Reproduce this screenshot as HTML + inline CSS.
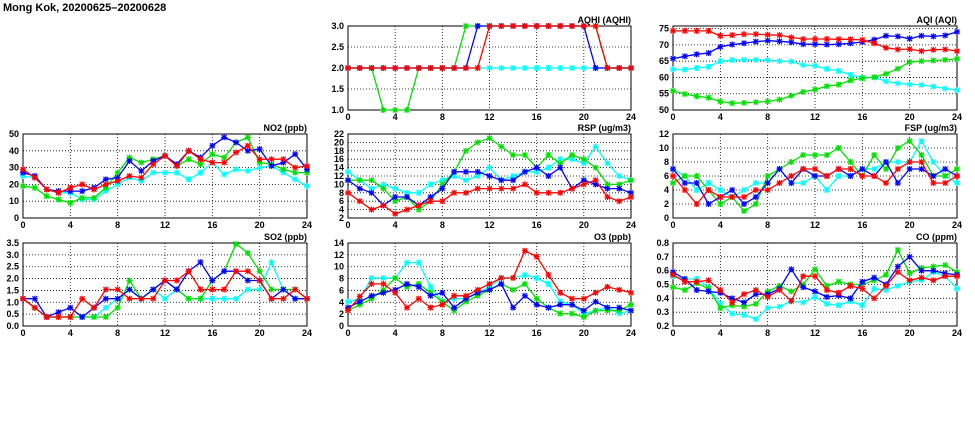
<!DOCTYPE html>
<html><head><meta charset="utf-8">
<style>
html,body{margin:0;padding:0;background:#fff;}
svg{display:block;font-family:"Liberation Sans",sans-serif;}
.tk{font-size:9px;font-weight:bold;fill:#000;}
.tt{font-size:9px;font-weight:bold;fill:#000;}
</style></head>
<body>
<svg id="chart" width="975" height="447" viewBox="0 0 975 447" xmlns="http://www.w3.org/2000/svg">
<text x="3" y="11" style="font-size:11px;font-weight:bold">Mong Kok, 20200625–20200628</text>
</svg>
<script>
const hours=[0,1,2,3,4,5,6,7,8,9,10,11,12,13,14,15,16,17,18,19,20,21,22,23,24];
const xTicks=[0,4,8,12,16,20,24];
const seriesNames=['cyan','green','blue','red'];
const seriesColors=['#00ffff','#00e000','#0000ff','#ff0000'];

const aqhiRed=[2,2,2,2,2,2,2,2,2,2,2,2,3,3,3,3,3,3,3,3,3,3,2,2,2];
const aqhiBlue=[2,2,2,2,2,2,2,2,2,2,2,3,3,3,3,3,3,3,3,3,3,2,2,2,2];
const aqhiGreen=[2,2,2,1,1,1,2,2,2,2,3,3,3,3,3,3,3,3,3,3,3,3,2,2,2];
const aqhiCyan=[2,2,2,2,2,2,2,2,2,2,2,2,2,2,2,2,2,2,2,2,2,2,2,2,2];

const aqiRed=[74.3,74.3,74.3,74.3,72.8,73,73.3,73.3,73.1,73,72.3,71.8,71.8,71.8,71.7,71.7,71.5,70.5,69.1,68.6,68.7,68.1,68.5,68.6,68.1];
const aqiBlue=[65.8,66.5,67.1,67.5,69.4,70.1,70.5,71,71.3,71.1,70.8,70.2,70.2,70.1,70.2,70.5,70.9,71.6,72.8,72.6,71.9,72.8,72.6,72.9,74];
const aqiGreen=[55.9,54.9,54.2,53.8,52.6,52.1,52.2,52.4,52.6,53.2,54.4,55.6,56.3,57.3,57.8,59.1,59.7,60.1,61.1,62.7,64.7,65,65.2,65.4,65.7];
const aqiCyan=[62.5,62.4,62.9,63.3,65,65.3,65.4,65.4,65.3,65,64.9,63.8,63.6,62.6,62,60.8,59.9,60,58.8,58.2,57.9,57.7,57.2,56.6,56.1];

const no2Red=[29,24,17,15,18,20,17,20,22,25,24,32,37,31,40,35,33,33,39,43,35,35,35,30,31];
const no2Blue=[27,25,17,16,16,16,18,23,24,34,28,34,37,32,40,36,43,48,45,40,41,31,33,38,29];
const no2Green=[19,18,13,11,9,12,12,18,27,36,33,35,37,31,35,32,38,36,45,48,33,32,29,27,27];
const no2Cyan=[25,24,17,15,15,11,11,16,20,24,22,27,27,27,23,27,33,26,29,28,30,31,27,23,19];

const rspRed=[8,6,4,5,3,4,5,6,6,8,8,9,9,9,9,10,8,8,8,9,10,11,7,6,7];
const rspBlue=[11,9,8,5,7,7,5,7,9,13,13,13,12,11,11,13,14,12,14,9,11,10,9,9,8];
const rspGreen=[11,11,11,9,6,7,4,6,10,13,18,20,21,19,17,17,14,17,15,17,16,14,10,10,11];
const rspCyan=[13,11,9,10,9,8,8,10,11,12,11,12,14,11,12,13,13,14,16,16,15,19,15,12,11];

const fspRed=[6,4,2,4,3,3,3,4,4,5,6,7,7,6,7,7,6,6,5,7,8,8,5,5,6];
const fspBlue=[7,5,5,2,3,4,2,3,5,7,5,7,6,6,7,6,7,6,8,5,7,7,6,7,6];
const fspGreen=[5,6,6,4,2,3,1,2,6,7,8,9,9,9,10,8,6,9,7,10,11,9,6,6,7];
const fspCyan=[7,6,4,5,4,3,4,5,5,7,5,5,6,4,6,6,7,7,8,8,8,11,8,6,5];

const so2Red=[1.15,0.77,0.38,0.38,0.38,1.15,0.77,1.54,1.54,1.15,1.15,1.15,1.92,1.92,2.31,1.54,1.54,1.54,2.31,2.31,1.92,1.15,1.15,1.54,1.15];
const so2Blue=[1.15,1.15,0.38,0.58,0.77,0.38,0.77,1.15,1.15,1.54,1.15,1.54,1.92,1.54,2.31,2.69,1.92,2.31,2.31,1.92,1.92,1.15,1.54,1.15,1.15];
const so2Green=[1.15,0.77,0.38,0.38,0.38,0.38,0.38,0.38,0.77,1.92,1.15,1.54,1.92,1.54,1.15,1.15,1.92,2.31,3.46,3.08,2.31,1.54,1.54,1.54,1.15];
const so2Cyan=[1.15,0.77,0.38,0.38,0.38,0.38,0.38,0.77,1.15,1.54,1.15,1.54,1.15,1.54,1.15,1.15,1.15,1.15,1.15,1.54,1.54,2.69,1.54,1.15,1.15];

const o3Red=[2.6,5,7.1,7.1,5.6,3.1,4.6,3.1,3.6,5.1,5.1,6.1,7.1,8.1,8.1,12.7,11.7,8.6,5.6,4.6,4.6,5.6,6.6,6.1,5.6];
const o3Blue=[3.1,4.1,5.1,5.6,6.1,7.1,6.6,5.1,5.6,3.1,4.6,5.6,6.1,7.1,3.1,5.1,3.6,3.1,3.6,3.6,2.6,4.1,3.1,3.1,2.6];
const o3Green=[2.6,3.6,4.6,6.1,8.1,6.6,7.1,5.6,4.1,2.6,4.1,5.1,6.1,7.1,6.1,7.1,4.6,3.1,2.1,2.1,1.5,2.6,2.6,2.6,3.6];
const o3Cyan=[4.1,4.6,8.1,8.1,8.1,10.7,10.7,6.6,4.1,4.6,4.6,5.6,6.6,8.1,8.1,8.6,8.1,7.1,4.1,3.6,2.1,2.6,3.1,2.1,2.6];

const coRed=[.57,.52,.52,.53,.46,.37,.43,.46,.41,.46,.38,.56,.56,.46,.44,.49,.47,.40,.49,.59,.53,.55,.53,.56,.56];
const coBlue=[.59,.54,.46,.45,.44,.40,.37,.43,.43,.47,.61,.48,.45,.41,.42,.40,.52,.55,.50,.63,.70,.60,.60,.58,.57];
const coGreen=[.48,.46,.51,.47,.33,.35,.34,.36,.45,.49,.45,.50,.61,.49,.52,.50,.50,.53,.57,.75,.58,.62,.63,.64,.59];
const coCyan=[.56,.54,.54,.48,.36,.29,.28,.25,.33,.34,.38,.37,.41,.36,.35,.38,.35,.47,.46,.49,.52,.53,.59,.56,.47];

const aqhiTicks=['1.0','1.5','2.0','2.5','3.0'];
const aqiTicks=['50','55','60','65','70','75'];
const no2Ticks=['0','10','20','30','40','50'];
const rspTicks=['2','4','6','8','10','12','14','16','18','20','22'];
const fspTicks=['0','2','4','6','8','10','12'];
const so2Ticks=['0.0','0.5','1.0','1.5','2.0','2.5','3.0','3.5'];
const o3Ticks=['0','2','4','6','8','10','12','14'];
const coTicks=['0.2','0.3','0.4','0.5','0.6','0.7','0.8'];

const panels=[
 {id:'aqhi',title:'AQHI (AQHI)',x0:348,x1:631,y0:26,y1:110,min:1,max:3,ticks:aqhiTicks,data:[aqhiCyan,aqhiGreen,aqhiBlue,aqhiRed]},
 {id:'aqi',title:'AQI (AQI)',x0:673,x1:957,y0:26,y1:110,min:50,max:75.8,ticks:aqiTicks,data:[aqiCyan,aqiGreen,aqiBlue,aqiRed]},
 {id:'no2',title:'NO2 (ppb)',x0:23,x1:307,y0:134,y1:218,min:0,max:50,ticks:no2Ticks,data:[no2Cyan,no2Green,no2Blue,no2Red]},
 {id:'rsp',title:'RSP (ug/m3)',x0:348,x1:631,y0:134,y1:218,min:2,max:22,ticks:rspTicks,data:[rspCyan,rspGreen,rspBlue,rspRed]},
 {id:'fsp',title:'FSP (ug/m3)',x0:673,x1:957,y0:134,y1:218,min:0,max:12,ticks:fspTicks,data:[fspCyan,fspGreen,fspBlue,fspRed]},
 {id:'so2',title:'SO2 (ppb)',x0:23,x1:307,y0:243,y1:326,min:0,max:3.5,ticks:so2Ticks,data:[so2Cyan,so2Green,so2Blue,so2Red]},
 {id:'o3',title:'O3 (ppb)',x0:348,x1:631,y0:243,y1:326,min:0,max:14,ticks:o3Ticks,data:[o3Cyan,o3Green,o3Blue,o3Red]},
 {id:'co',title:'CO (ppm)',x0:673,x1:957,y0:243,y1:326,min:0.2,max:0.8,ticks:coTicks,data:[coCyan,coGreen,coBlue,coRed]}
];
const NS='http://www.w3.org/2000/svg';
const svg=document.getElementById('chart');
function mk(tag,attrs,parent){const e=document.createElementNS(NS,tag);for(const k in attrs)e.setAttribute(k,attrs[k]);(parent||svg).appendChild(e);return e;}
panels.forEach(p=>{
 const g=mk('g',{});
 
 
 const xs=h=>p.x0+(h/24)*(p.x1-p.x0);
 const ys=v=>p.y1-(v-p.min)/(p.max-p.min)*(p.y1-p.y0);
 // grid
 p.ticks.forEach(t=>{const y=ys(parseFloat(t));
  if(y>p.y0+1&&y<p.y1-1){const l=mk('line',{x1:p.x0,x2:p.x1,y1:y,y2:y,stroke:'#000','stroke-width':0.8,'stroke-dasharray':'1,2'},g);
   
   }
  const tx=mk('text',{x:p.x0-4,y:y+3,'text-anchor':'end',class:'tk'},g);tx.textContent=t;
  
  
 });
 xTicks.forEach(h=>{const x=xs(h);
  if(h>0&&h<24){const l=mk('line',{x1:x,x2:x,y1:p.y0,y2:p.y1,stroke:'#000','stroke-width':0.8,'stroke-dasharray':'1,2'},g);
   
   }
  const tx=mk('text',{x:x,y:p.y1+10,'text-anchor':'middle',class:'tk'},g);tx.textContent=h;
  
  
 });
 const fr=mk('rect',{x:p.x0,y:p.y0,width:p.x1-p.x0,height:p.y1-p.y0,fill:'none',stroke:'#000','stroke-width':1},g);
 
 
 const tt=mk('text',{x:p.x1,y:p.y0-3,'text-anchor':'end',class:'tt'},g);tt.textContent=p.title;
 
 
 p.data.forEach((arr,si)=>{
  const c=seriesColors[si];
  const pts=hours.map((h,i)=>xs(h).toFixed(1)+','+ys(arr[i]).toFixed(1)).join(' ');
  const pl=mk('polyline',{points:pts,fill:'none',stroke:c,'stroke-width':1.3},g);
  
  
  hours.forEach((h,i)=>{const x=xs(h),y=ys(arr[i]);
   const m=mk('path',{d:`M${x-3},${y}h6M${x},${y-3}v6M${x-2.4},${y-2.4}l4.8,4.8M${x-2.4},${y+2.4}l4.8,-4.8`,stroke:c,'stroke-width':1.2,fill:'none'},g);
   
   
  });
 });
});
</script>
</body></html>
